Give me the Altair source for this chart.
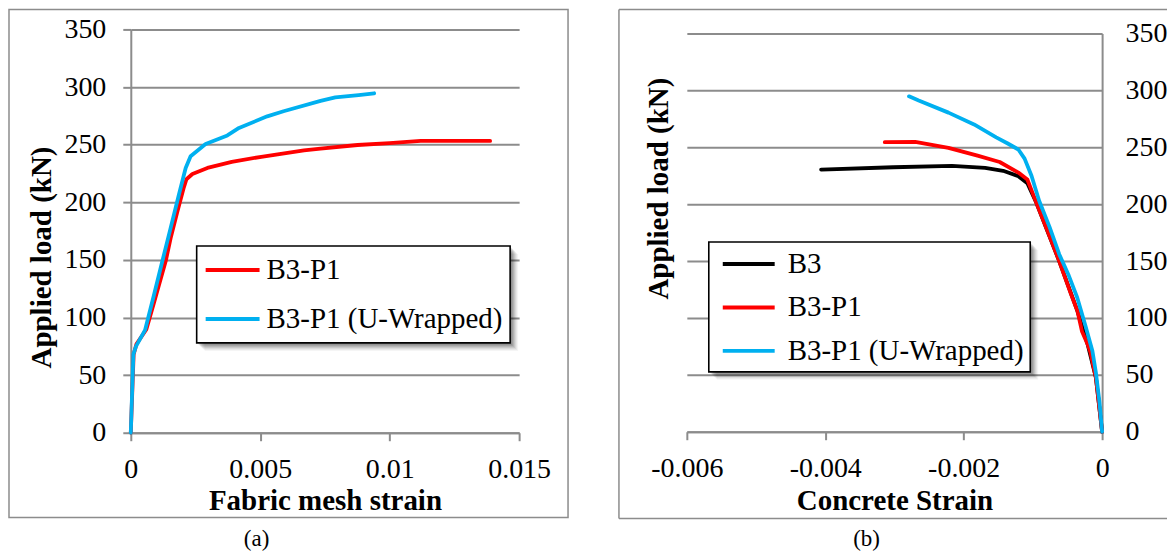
import altair as alt
import pandas as pd

FONT = "Liberation Serif"
RED = "#FF0000"
CYAN = "#00B0F0"
BLACK = "#000000"
GREY = "#8C8C8C"

# ---------------- data: panel (a) fabric mesh strain ----------------
a_names = ["B3-P1", "B3-P1 (U-Wrapped)"]
a_colors = [RED, CYAN]
a_p1_strain = [0, 0.00011, 0.00022, 0.0006, 0.00091, 0.00135, 0.00154, 0.0018, 0.00205, 0.00215,
               0.00238, 0.00296, 0.0039, 0.00504, 0.00669, 0.00733, 0.00876, 0.0100, 0.0112, 0.01388]
a_p1_load = [0, 68, 77, 89.6, 114, 149, 169, 192, 213, 220,
             224.5, 229.8, 235, 239.5, 245, 246.6, 249.7, 251.4, 253.3, 253.2]
a_uw_strain = [0, 0.0001, 0.0002, 0.00055, 0.0009, 0.00122, 0.00154, 0.00186, 0.00212, 0.00231,
               0.00289, 0.00373, 0.00418, 0.00527, 0.0059, 0.00733, 0.0079, 0.0088, 0.0094]
a_uw_load = [0, 68, 75, 89, 120, 149, 177.8, 206.8, 229.8, 240,
             250.6, 258, 264.5, 274.6, 279, 288, 291, 293, 294.6]

# ---------------- data: panel (b) concrete strain ----------------
b_names = ["B3", "B3-P1", "B3-P1 (U-Wrapped)"]
b_colors = [BLACK, RED, CYAN]
b_b3_strain = [0, -0.00009, -0.00021, -0.000356, -0.00062, -0.00096, -0.00108,
               -0.00121, -0.00143, -0.00169, -0.00217, -0.00302, -0.00406]
b_b3_load = [0, 47.6, 77, 106, 150, 202.6, 218.4, 224.6, 229.3, 231.8, 233.6, 232.4, 230.4]
b_p1_strain = [0, -0.00009, -0.00017, -0.00021, -0.00029, -0.000356, -0.00045, -0.00062,
               -0.00078, -0.00096, -0.00108, -0.00121, -0.00148, -0.0018, -0.00222,
               -0.0027, -0.00314]
b_p1_load = [0, 47.6, 70, 77, 88, 106, 121, 150, 175, 202.6, 221.6, 227.7, 237, 242.6,
             249.5, 254.7, 254.4]
b_uw_strain = [0, -0.00004, -0.00009, -0.00014, -0.00024, -0.00036, -0.00048, -0.00062,
               -0.00076, -0.00091, -0.00102, -0.00112, -0.00121, -0.00137, -0.00153,
               -0.00185, -0.00222, -0.00265, -0.00279]
b_uw_load = [0, 27, 52, 71, 93, 118, 137, 156, 180, 203, 225, 240, 248, 253.5, 258.7,
             270, 280.4, 291, 294.7]

# ---------------- ticks & texts ----------------
y_ticks = [0, 50, 100, 150, 200, 250, 300, 350]
x_ticks_a = [0, 0.005, 0.01, 0.015]
x_ticks_b = [-0.006, -0.004, -0.002, 0]
x_titles = ["Fabric mesh strain", "Concrete Strain"]
y_title = "Applied load (kN)"
panel_tags = ["(a)", "(b)"]


def long_df(names, strains, loads):
    rows = []
    for n, s, l in zip(names, strains, loads):
        for i, (xv, yv) in enumerate(zip(s, l)):
            rows.append({"series": n, "strain": xv, "load": yv, "idx": i})
    return pd.DataFrame(rows)


one = pd.DataFrame({"k": [0]})


def frame_rect(x0, x1, y0, y1):
    return alt.Chart(one).mark_rect(fillOpacity=0, stroke=GREY, strokeWidth=1.5).encode(
        x=alt.value(x0), x2=alt.value(x1), y=alt.value(y0), y2=alt.value(y1))


def hrule(x0, x1, y):
    return alt.Chart(one).mark_rule(color=GREY, strokeWidth=1.5).encode(
        x=alt.value(x0), x2=alt.value(x1), y=alt.value(y))


def vrule(x, y0, y1):
    return alt.Chart(one).mark_rule(color=GREY, strokeWidth=1.5).encode(
        x=alt.value(x), y=alt.value(y0), y2=alt.value(y1))


def legend_box(x0, y0, x1, y1):
    layers = []
    for k, op in [(8, 0.04), (7, 0.05), (6, 0.06), (5, 0.08), (4, 0.09), (3, 0.1), (2, 0.1)]:
        layers.append(alt.Chart(one).mark_rect(fill="#000000", opacity=op).encode(
            x=alt.value(x0 + k), x2=alt.value(x1 + k), y=alt.value(y0 + k), y2=alt.value(y1 + k)))
    layers.append(alt.Chart(one).mark_rect(fill="white", stroke="black", strokeWidth=1.6).encode(
        x=alt.value(x0), x2=alt.value(x1), y=alt.value(y0), y2=alt.value(y1)))
    return layers


def tag(text, x, y):
    return alt.Chart(pd.DataFrame({"t": [text]})).mark_text(
        font=FONT, fontSize=23, align="center", baseline="alphabetic", color="black"
    ).encode(x=alt.value(x), y=alt.value(y), text="t:N")


def line_layers(df, names, colors, xenc, yenc, legend):
    color = alt.Color("series:N", scale=alt.Scale(domain=names, range=colors), legend=legend)
    out = []
    for n in names:
        out.append(alt.Chart(df).transform_filter(alt.datum.series == n)
                   .mark_line(strokeWidth=3.8, strokeJoin="round", strokeCap="round")
                   .encode(x=xenc, y=yenc, color=color, order="idx:Q"))
    return out


# ---------------- panel (a) ----------------
df_a = long_df(a_names, [a_p1_strain, a_uw_strain], [a_p1_load, a_uw_load])
xa = alt.X("strain:Q", scale=alt.Scale(domain=[0, 0.015], nice=False, zero=False),
           axis=alt.Axis(values=x_ticks_a, labelExpr="'' + datum.value", grid=False,
                         tickSize=8, labelPadding=15, title=x_titles[0],
                         titleY=77, titleBaseline="alphabetic"))
ya = alt.Y("load:Q", scale=alt.Scale(domain=[0, 350], nice=False),
           axis=alt.Axis(values=y_ticks, grid=True, tickSize=8, labelPadding=17,
                         title=y_title, titleAngle=270, titleX=-89, titleY=228,
                         titleAlign="center", titleBaseline="middle"))
leg_a = alt.Legend(orient="none", legendX=66, legendY=217, title=None, padding=7,
                   clipHeight=34, rowPadding=15, labelOffset=5, symbolType="stroke",
                   symbolSize=54 * 54, symbolStrokeWidth=4, labelFont=FONT,
                   labelFontSize=29, labelColor="black", labelLimit=400, direction="vertical")

panel_a = alt.layer(
    frame_rect(-122, 438, -20, 489),
    *line_layers(df_a, a_names, a_colors, xa, ya, leg_a),
    *legend_box(66, 217, 380, 314),
    tag(panel_tags[0], 126, 517),
).properties(width=389, height=404)

# ---------------- panel (b) ----------------
# plot origin shares the top of panel (a); the y range is inset by 4 px
df_b = long_df(b_names, [b_b3_strain, b_p1_strain, b_uw_strain], [b_b3_load, b_p1_load, b_uw_load])
xb = alt.X("strain:Q", scale=alt.Scale(domain=[-0.006, 0], nice=False, zero=False),
           axis=alt.Axis(values=x_ticks_b, labelExpr="'' + datum.value", grid=False,
                         tickSize=8, labelPadding=15, title=x_titles[1],
                         titleY=78, titleBaseline="alphabetic"))
yb = alt.Y("load:Q", scale=alt.Scale(domain=[0, 350], nice=False, range=[403, 4]),
           axis=alt.Axis(values=y_ticks, grid=True, orient="right", ticks=False,
                         labelPadding=23, title=y_title, titleAngle=270, titleX=-444,
                         titleY=159, titleAlign="center", titleBaseline="middle"))
leg_b = alt.Legend(orient="none", legendX=22, legendY=213, title=None, padding=7,
                   clipHeight=30, rowPadding=13.5, labelOffset=11, symbolOffset=5,
                   symbolType="stroke", symbolSize=52 * 52, symbolStrokeWidth=4,
                   labelFont=FONT, labelFontSize=29, labelColor="black", labelLimit=400,
                   direction="vertical")

panel_b = alt.layer(
    vrule(-68, -20, 490),
    hrule(-68, 481, -20),
    hrule(-68, 481, 490),
    *line_layers(df_b, b_names, b_colors, xb, yb, leg_b),
    *legend_box(22, 213, 344, 343),
    tag(panel_tags[1], 180, 517),
).properties(width=416, height=403)

chart = (
    alt.hconcat(panel_a, panel_b, spacing=49)
    .resolve_scale(color="independent", x="independent", y="independent")
    .resolve_legend(color="independent")
    .properties(padding=0, background="white")
    .configure_view(stroke=None)
    .configure_axis(
        labelFont=FONT, labelFontSize=28, labelColor="black",
        titleFont=FONT, titleFontSize=29, titleFontWeight="bold", titleColor="black",
        domainColor=GREY, domainWidth=2, tickColor=GREY, tickWidth=2,
        gridColor=GREY, gridWidth=2, labelFlush=False, labelOverlap=False,
    )
)

chart.save("out.html", embed_options={"renderer": "svg", "actions": False})
